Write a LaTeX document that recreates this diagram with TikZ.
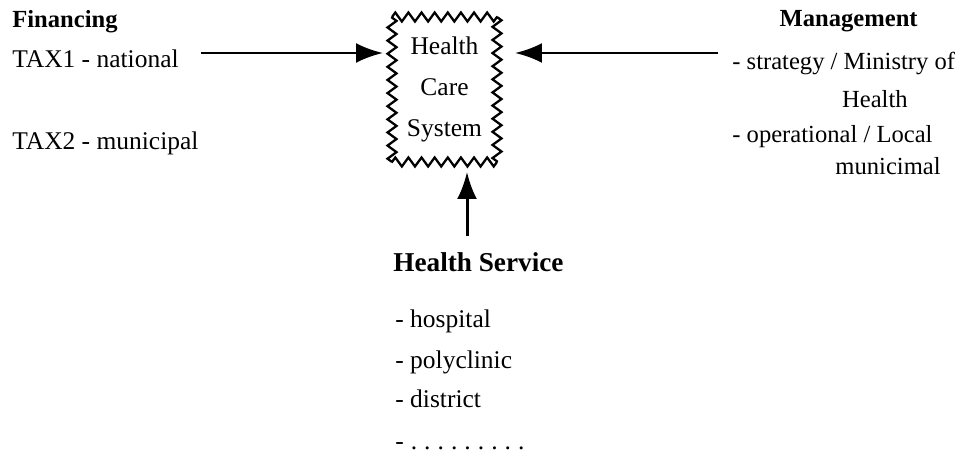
\documentclass[tikz,border=0pt]{standalone}
\usepackage{fontspec}
\setmainfont{Liberation Serif}
\usetikzlibrary{arrows.meta,decorations.pathmorphing}

\begin{document}
\begin{tikzpicture}[x=0.02cm,y=-0.02cm]
% Styles
\tikzstyle{fleche}=[-{Latex[length=5.4mm,width=4mm]},line width=1.7pt]
\tikzstyle{texte}=[inner sep=0pt,font=\fontsize{14.5}{17}\selectfont]
\tikzstyle{droite}=[inner sep=0pt,font=\fontsize{14}{17}\selectfont]
\tikzstyle{titre}=[inner sep=0pt,font=\fontsize{14}{17}\selectfont\bfseries]
\tikzstyle{boite}=[outer sep=0pt,minimum width=2.1cm,minimum height=2.9cm,
  align=center,font=\fontsize{14.5}{23.5}\selectfont]
\tikzstyle{bord}=[line width=1.3pt,line join=miter,decorate,
  decoration={zigzag,segment length=0.2625cm,amplitude=0.09cm}]
% Dimensions
\def\ColGauche{12}
\def\ColDroite{732}
\def\ColListe{395}
\useasboundingbox (0,0) rectangle (962,455);
% Noeuds : systeme
\node[boite] (S) at (444.5,89.5) {Health\\Care\\System};
\foreach \a/\b in {north west/north east,north east/south east,
                   south east/south west,south west/north west}
  \draw[bord] (S.\a) -- (S.\b);
% Noeuds : financement
\node[titre,anchor=base west] (F) at (\ColGauche,28) {Financing};
\node[texte,anchor=base west] (Fa) at (\ColGauche,68) {TAX1 - national};
\node[texte,anchor=base west] (Fb) at (\ColGauche,150) {TAX2 - municipal};
% Noeuds : gestion
\node[titre,anchor=base east] (G) at (918,27) {Management};
\node[droite,anchor=base west] (Ga) at (\ColDroite,70) {- strategy / Ministry of};
\node[droite,anchor=base east] (Gb) at (908,108) {Health};
\node[droite,anchor=base west] (Gc) at (\ColDroite,143) {- operational / Local};
\node[droite,anchor=base east] (Gd) at (941,175) {municimal};
% Noeuds : services
\node[titre,anchor=base west,font=\fontsize{15.5}{18}\selectfont\bfseries] (H) at (393,272) {Health Service};
\node[texte,anchor=base west] (Ha) at (\ColListe,328) {- hospital};
\node[texte,anchor=base west] (Hb) at (\ColListe,368) {- polyclinic};
\node[texte,anchor=base west] (Hc) at (\ColListe,407) {- district};
\node[texte,anchor=base west] (Hd) at (\ColListe,449) {-\kern4pt.\kern4pt.\kern4pt.\kern4pt.\kern4pt.\kern4pt.\kern4pt.\kern4pt.\kern4pt.};
% Arcs
\draw[fleche] ([xshift=0.44cm]Fa.east |- 0,53) -- ([xshift=-0.18cm]S.west |- 0,53);
\draw[fleche] ([xshift=-0.28cm]Ga.west |- 0,53) -- ([xshift=0.36cm]S.east |- 0,53);
\draw[fleche] ([yshift=0.34cm]H.north -| 467,0) -- ([yshift=-0.2cm]S.south -| 467,0);
\end{tikzpicture}
\end{document}
